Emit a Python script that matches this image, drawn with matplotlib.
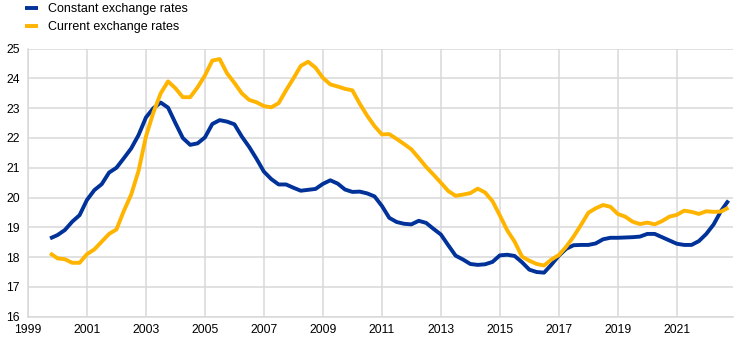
import matplotlib.pyplot as plt
import numpy as np

plt.rcParams['font.family'] = ['Liberation Sans', 'DejaVu Sans']

# quarterly observations, 1999 Q4 - 2022 Q4
start_year = 1999.75
constant_rates = [
    18.63,
    18.74, 18.91, 19.19, 19.41,
    19.92, 20.25, 20.45, 20.84,
    21.00, 21.32, 21.65, 22.10,
    22.69, 23.00, 23.19, 23.02,
    22.50, 22.00, 21.77, 21.82,
    22.02, 22.47, 22.60, 22.55,
    22.46, 22.05, 21.70, 21.30,
    20.87, 20.62, 20.44, 20.44,
    20.33, 20.23, 20.26, 20.29,
    20.46, 20.58, 20.47, 20.27,
    20.19, 20.20, 20.14, 20.04,
    19.72, 19.32, 19.18, 19.12,
    19.10, 19.22, 19.15, 18.95,
    18.76, 18.40, 18.05, 17.92,
    17.77, 17.74, 17.76, 17.84,
    18.06, 18.08, 18.04, 17.83,
    17.58, 17.50, 17.48, 17.75,
    18.05, 18.28, 18.40, 18.41,
    18.41, 18.46, 18.60, 18.65,
    18.65, 18.66, 18.67, 18.69,
    18.78, 18.78, 18.67, 18.56,
    18.45, 18.41, 18.41, 18.54,
    18.78, 19.10, 19.55, 19.90,
]
current_rates = [
    18.13,
    17.96, 17.93, 17.81, 17.81,
    18.10, 18.26, 18.52, 18.78,
    18.93, 19.55, 20.10, 20.90,
    22.05, 22.85, 23.50, 23.90,
    23.67, 23.37, 23.37, 23.70,
    24.10, 24.60, 24.65, 24.17,
    23.85, 23.50, 23.28, 23.20,
    23.07, 23.03, 23.17, 23.60,
    24.00, 24.42, 24.56, 24.36,
    24.02, 23.80, 23.73, 23.65,
    23.60, 23.15, 22.75, 22.40,
    22.12, 22.13, 21.97, 21.80,
    21.62, 21.33, 21.03, 20.77,
    20.50, 20.22, 20.06, 20.10,
    20.15, 20.30, 20.17, 19.88,
    19.40, 18.90, 18.52, 18.02,
    17.88, 17.77, 17.72, 17.92,
    18.07, 18.35, 18.69, 19.08,
    19.49, 19.64, 19.75, 19.69,
    19.45, 19.36, 19.19, 19.11,
    19.16, 19.10, 19.21, 19.36,
    19.42, 19.56, 19.52, 19.45,
    19.54, 19.52, 19.53, 19.66,
]
series_names = ["Constant exchange rates", "Current exchange rates"]
year_ticks = list(range(1999, 2022, 2))
value_ticks = list(range(16, 26))

x = start_year + 0.25 * np.arange(len(constant_rates))

fig = plt.figure(figsize=(7.44, 3.45), dpi=100)
ax = fig.add_axes([0.0376, 0.082, 0.9474, 0.777])

ax.plot(x, constant_rates, color="#003299", lw=2.8, label=series_names[0],
        solid_capstyle="butt", zorder=3)
ax.plot(x, current_rates, color="#FFB400", lw=2.8, label=series_names[1],
        solid_capstyle="butt", zorder=3)

ax.set_xlim(1999, 2022.9)
ax.set_ylim(16, 25)
ax.set_xticks(year_ticks)
ax.set_yticks(value_ticks)
ax.tick_params(length=0, labelsize=8.7, colors="#000000")
ax.tick_params(axis="y", pad=6)
ax.tick_params(axis="x", pad=5)
ax.grid(True, color="#d9d9d9", lw=1.1)
ax.set_axisbelow(True)
for side in ["top", "right"]:
    ax.spines[side].set_visible(False)
for side in ["left", "bottom"]:
    ax.spines[side].set_color("#d9d9d9")
    ax.spines[side].set_linewidth(1.1)

fig.legend(loc="upper left", bbox_to_anchor=(0.033, 0.99), frameon=False,
           fontsize=9, handlelength=1.1, handletextpad=0.8,
           labelspacing=0.45, borderaxespad=0, borderpad=0)

fig.savefig("out.png", dpi=100)
